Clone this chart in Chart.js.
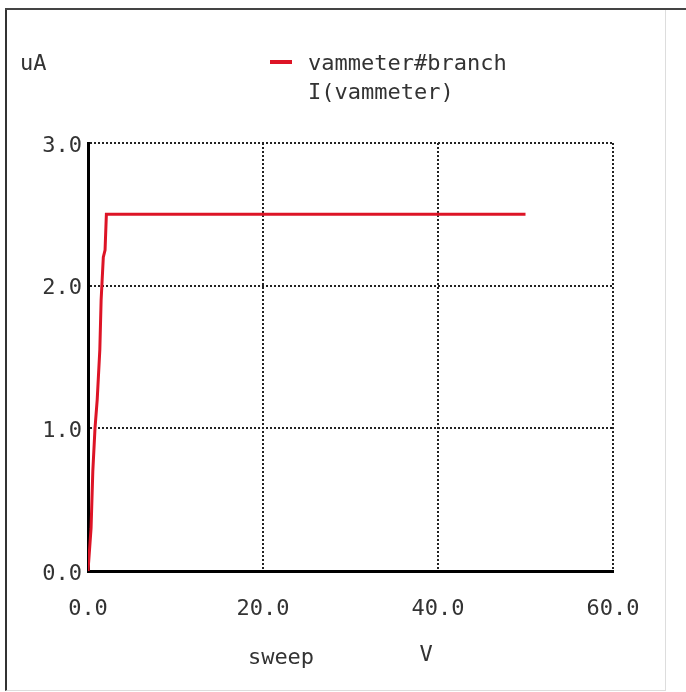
<!DOCTYPE html>
<html>
<head>
<meta charset="utf-8">
<script src="https://cdn.jsdelivr.net/npm/chart.js@4"></script>
<style>
  html, body { margin: 0; padding: 0; background: #fff; }
  #wrap { position: relative; width: 686px; height: 692px; }
  #frame {
    position: absolute; left: 5px; top: 8px; width: 658px; height: 680px;
    border-left: 2px solid #333; border-top: 2px solid #444;
    border-right: 1px solid #ddd; border-bottom: 1px solid #ddd;
    pointer-events: none;
  }
  #frameTop { position: absolute; left: 5px; top: 8px; width: 681px; height: 2px; background: #444; }
  canvas { position: absolute; left: 0; top: 0; }
</style>
</head>
<body>
<div id="wrap">
  <canvas id="plot" width="686" height="692"></canvas>
  <div id="frame"></div>
  <div id="frameTop"></div>
</div>
<script>
const sweepV = [0, 0.35, 0.55, 0.8, 1.05, 1.35, 1.5, 1.75, 1.95, 2.1, 50];
const currentUA = [0, 0.3, 0.7, 1.0, 1.2, 1.55, 1.9, 2.2, 2.25, 2.5, 2.5];
const xTicks = [0, 20, 40, 60];
const yTicks = [0, 1, 2, 3];
const seriesName = 'vammeter#branch';
const seriesSub = 'I(vammeter)';
const yUnit = 'uA';
const xName = 'sweep';
const xUnit = 'V';

const FONT = '"DejaVu Sans Mono", "Liberation Mono", monospace';
const RED = '#dd1426';

const labelsPlugin = {
  id: 'spiceLabels',
  afterDraw(chart) {
    const c = chart.ctx;
    c.save();
    c.font = '22px ' + FONT;
    c.fillStyle = '#333';
    c.textBaseline = 'middle';
    c.textAlign = 'left';
    c.fillText(yUnit, 20, 64);
    c.fillText(seriesName, 308, 64);
    c.fillText(seriesSub, 308, 93);
    c.fillStyle = RED;
    c.fillRect(270, 60, 22, 4);
    c.fillStyle = '#333';
    c.textAlign = 'center';
    c.fillText(xName, 281, 658);
    c.fillText(xUnit, 426, 655);
    c.restore();
  }
};

const ctx = document.getElementById('plot').getContext('2d');

const myChart = new Chart(ctx, {
  type: 'line',
  data: {
    datasets: [{
      label: seriesName,
      data: sweepV.map((x, i) => ({x: x, y: currentUA[i]})),
      borderColor: RED,
      borderWidth: 3,
      pointRadius: 0,
      tension: 0,
      fill: false
    }]
  },
  options: {
    responsive: false,
    animation: false,
    layout: { padding: { left: 0, top: 143, right: 73, bottom: 71 } },
    plugins: { legend: { display: false }, tooltip: { enabled: false } },
    scales: {
      x: {
        type: 'linear',
        min: 0, max: 60,
        afterBuildTicks: s => { s.ticks = xTicks.map(v => ({value: v})); },
        afterFit: s => { s.height = 50; },
        ticks: {
          padding: 25,
          color: '#333',
          font: { family: FONT, size: 22 },
          maxRotation: 0,
          callback: v => v.toFixed(1)
        },
        grid: { color: '#222', lineWidth: 2, drawTicks: false },
        border: { display: true, color: '#000', width: 3, dash: [2, 2] }
      },
      y: {
        min: 0, max: 3,
        afterBuildTicks: s => { s.ticks = yTicks.map(v => ({value: v})); },
        afterFit: s => { s.width = 88; },
        ticks: {
          padding: 6,
          labelOffset: 3,
          color: '#333',
          font: { family: FONT, size: 22 },
          callback: v => v.toFixed(1)
        },
        grid: { color: '#222', lineWidth: 2, drawTicks: false },
        border: { display: true, color: '#000', width: 3, dash: [2, 2] }
      }
    }
  },
  plugins: [labelsPlugin]
});
</script>
</body>
</html>
